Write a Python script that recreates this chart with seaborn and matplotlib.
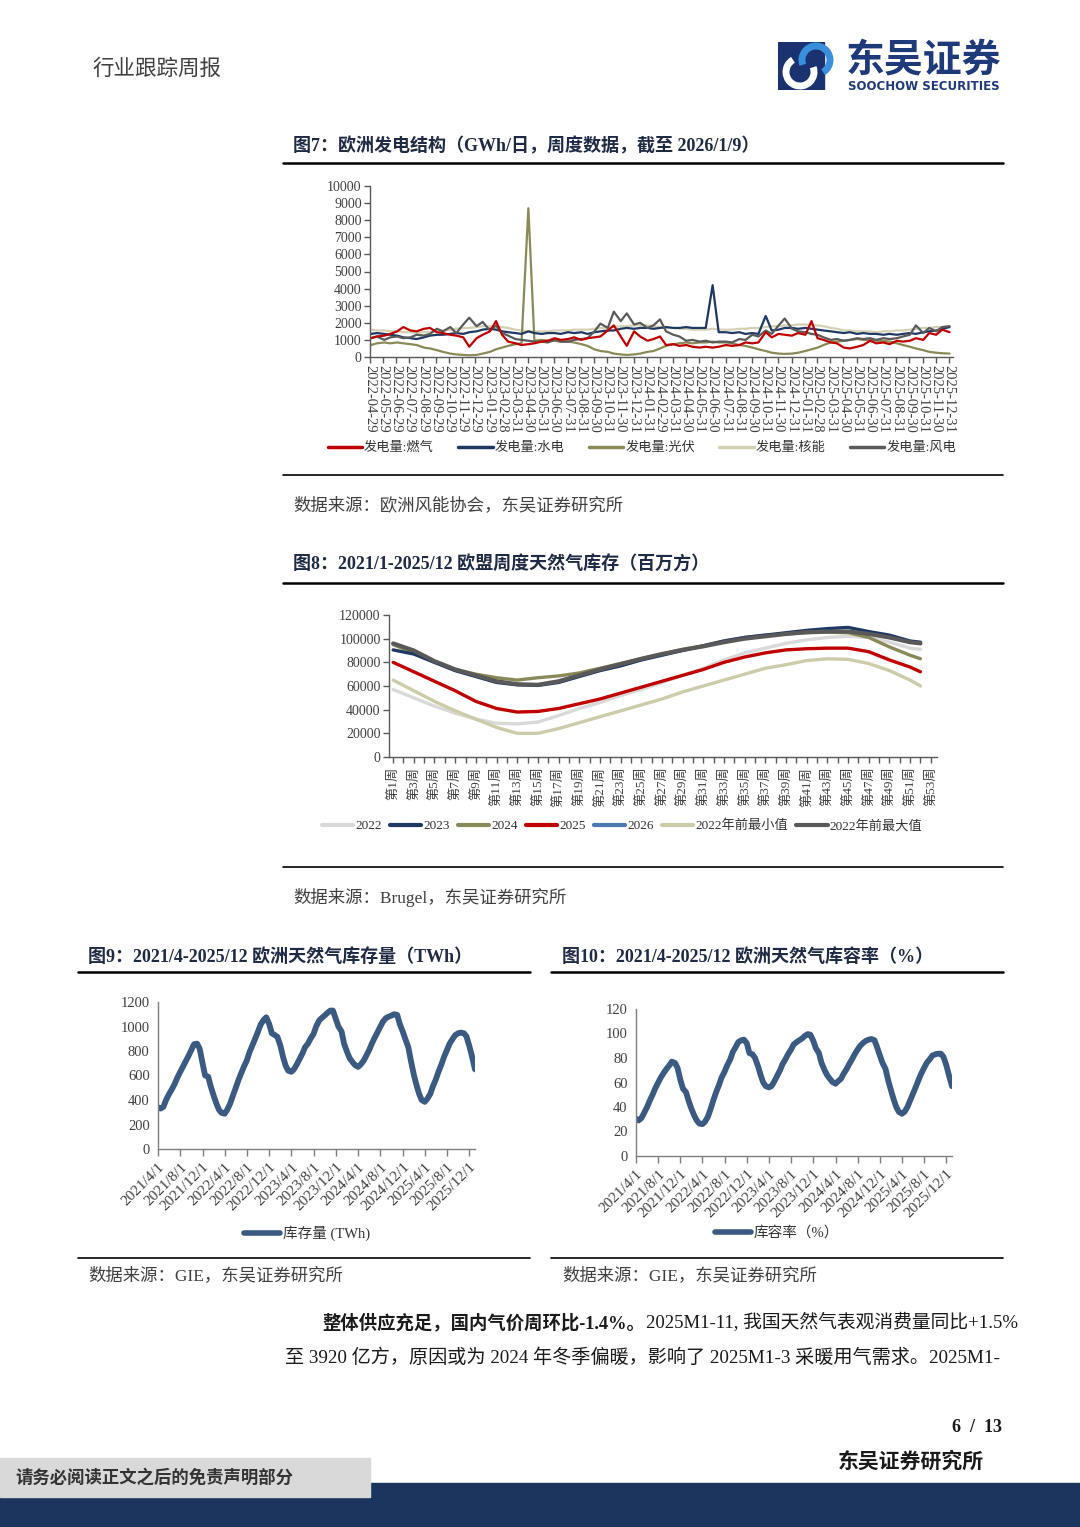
import pandas as pd
import matplotlib
matplotlib.use("Agg")
import matplotlib.pyplot as plt
import seaborn as sns
from matplotlib.lines import Line2D
from matplotlib.patches import Rectangle, Arc

# CONFIG
sns.set_theme(style="ticks")
plt.rcParams["font.family"] = ["Liberation Serif", "Noto Sans CJK SC"]
plt.rcParams["axes.unicode_minus"] = False

W, H = 1080, 1527

# ---------------- DATA: FIG 7 (GWh/day, semi-monthly readings) ----------------
gen_ticks = [
    "2022-04-29", "2022-05-29", "2022-06-29", "2022-07-29", "2022-08-29", "2022-09-29",
    "2022-10-29", "2022-11-29", "2022-12-29", "2023-01-29", "2023-02-28", "2023-03-31",
    "2023-04-30", "2023-05-31", "2023-06-30", "2023-07-31", "2023-08-31", "2023-09-30",
    "2023-10-31", "2023-11-30", "2023-12-31", "2024-01-31", "2024-02-29", "2024-03-31",
    "2024-04-30", "2024-05-31", "2024-06-30", "2024-07-31", "2024-08-31", "2024-09-30",
    "2024-10-31", "2024-11-30", "2024-12-31", "2025-01-31", "2025-02-28", "2025-03-31",
    "2025-04-30", "2025-05-31", "2025-06-30", "2025-07-31", "2025-08-31", "2025-09-30",
    "2025-10-31", "2025-11-30", "2025-12-31",
]
gen_dates = pd.date_range("2022-05-01", periods=89, freq="SMS")

gas = [1100, 1200, 1250, 1350, 1500, 1750, 1550, 1500, 1650, 1700, 1450, 1400, 1300, 1250, 1150, 600,
       1100, 1300, 1500, 2100, 1300, 900, 800, 700, 750, 800, 900, 950, 1100, 1000, 1050, 1150,
       1000, 1100, 1150, 1200, 1550, 1850, 1200, 650,
       1500, 1200, 950, 1050, 1200, 700, 750, 650, 700, 600, 550, 600, 550, 600, 700, 650,
       700, 850, 800, 850, 1450, 1150, 1350, 1300,
       1250, 1400, 1300, 2100, 1100, 1000, 850, 800, 550, 500, 600, 700, 950, 800, 850, 750,
       950, 900, 950, 1100, 1000, 1400, 1300, 1600, 1450]
hydro = [1350, 1400, 1350, 1300, 1250, 1150, 1100, 1050, 1150, 1250, 1300, 1300, 1350, 1400, 1350, 1450,
         1500, 1600, 1650, 1600, 1500, 1450, 1400, 1350, 1500, 1400, 1350, 1400, 1400, 1350, 1450, 1400,
         1450, 1350, 1450, 1500, 1550, 1550, 1650, 1700,
         1650, 1700, 1700, 1650, 1700, 1750, 1700, 1700, 1750, 1700, 1700, 1700, 4200, 1450, 1450, 1400,
         1450, 1350, 1400, 1350, 2400, 1550, 1600, 1700,
         1700, 1650, 1700, 1650, 1600, 1550, 1500, 1450, 1400, 1450, 1350, 1400, 1350, 1350, 1300, 1350,
         1300, 1350, 1400, 1350, 1450, 1500, 1550, 1650, 1750]
solar = [700, 800, 850, 800, 850, 800, 750, 700, 550, 500, 400, 300, 200, 150, 120, 100,
         120, 200, 300, 450, 550, 650, 750, 800, 8700, 950, 1000, 950, 950, 900, 900, 850,
         750, 650, 450, 350, 300, 200, 150, 120,
         150, 200, 300, 350, 500, 650, 750, 800, 850, 800, 850, 850, 900, 850, 850, 800,
         700, 650, 550, 450, 350, 250, 200, 180,
         200, 250, 350, 450, 550, 700, 850, 900, 950, 1000, 1050, 1000, 1000, 950, 950, 900,
         800, 700, 600, 500, 400, 300, 250, 220, 200]
nuclear = [1600, 1550, 1550, 1500, 1500, 1450, 1450, 1400, 1450, 1450, 1500, 1550, 1600, 1650, 1700, 1700,
           1750, 1800, 1800, 1750, 1750, 1700, 1600, 1550, 1500, 1500, 1500, 1500, 1550, 1550, 1550, 1600,
           1600, 1600, 1650, 1700, 1700, 1750, 1800, 1800,
           1850, 1850, 1850, 1800, 1750, 1700, 1700, 1650, 1650, 1600, 1600, 1600, 1650, 1600, 1600, 1600,
           1650, 1650, 1700, 1700, 1750, 1800, 1800, 1850,
           1850, 1900, 1900, 1850, 1850, 1800, 1700, 1650, 1550, 1550, 1500, 1500, 1500, 1450, 1500, 1500,
           1550, 1550, 1600, 1650, 1700, 1700, 1750, 1750, 1800]
wind = [1100, 1200, 1000, 1150, 1200, 1100, 1150, 1300, 1250, 1350, 1650, 1500, 1750, 1400, 1900, 2300,
        1800, 2050, 1550, 1850, 1400, 1250, 1050, 1000, 950, 900, 900, 850, 1000, 900, 900, 1000,
        1050, 1100, 1500, 1950, 1700, 2650, 2100, 2550,
        1900, 2000, 1700, 1850, 2200, 1500, 1300, 1200, 950, 1000, 900, 950, 850, 900, 900, 850,
        1050, 1000, 1300, 1200, 1550, 1350, 1850, 2250,
        1650, 1500, 1450, 1350, 1300, 1150, 1000, 1050, 950, 1000, 1100, 1050, 1100, 1000, 1100, 1050,
        1100, 1200, 1300, 1850, 1400, 1700, 1500, 1750, 1800]

gen_order = ["发电量:燃气", "发电量:水电", "发电量:光伏", "发电量:核能", "发电量:风电"]
gen_colors = {"发电量:燃气": "#c00000", "发电量:水电": "#1f3864", "发电量:光伏": "#8a8a58",
              "发电量:核能": "#d3d1b4", "发电量:风电": "#5a5a5a"}
gen_draw = ["发电量:核能", "发电量:光伏", "发电量:水电", "发电量:风电", "发电量:燃气"]

# ---------------- DATA: FIG 8 (mcm, weekly) ----------------
weeks = [1, 3, 5, 7, 9, 11, 13, 15, 17, 19, 21, 23, 25, 27, 29, 31, 33, 35, 37, 39, 41, 43, 45, 47, 49, 51, 52]
week_labels = [f"第{w}周" for w in range(1, 54, 2)]
s2022 = [57000, 50000, 43000, 37000, 32000, 28500, 28000, 29500, 35000, 41000, 46000, 52000, 57000, 63000,
         69000, 75000, 82000, 88000, 92000, 96000, 99000, 101000, 102000, 101000, 97000, 92000, 91000]
s2023 = [90500, 87000, 80000, 73000, 68000, 63000, 61000, 60500, 63000, 68000, 73000, 77000, 82000, 86000,
         90000, 94000, 98000, 101000, 103000, 105000, 107000, 108500, 109500, 106000, 103000, 98000, 97000]
s2024 = [95000, 88000, 80000, 74000, 70000, 67000, 65000, 67000, 68500, 71000, 75000, 79000, 83000, 87000,
         91000, 94000, 98000, 101000, 103000, 104000, 105000, 105500, 105000, 101000, 93000, 86000, 83000]
s2025 = [80000, 72000, 64000, 56000, 47000, 41000, 38000, 38500, 41000, 45000, 49000, 54000, 59000, 64000,
         69000, 74000, 80000, 84500, 88000, 90500, 91500, 92000, 92000, 89000, 82000, 76000, 72000]
s2026 = [94000]
s_min = [65000, 56000, 47000, 39000, 32000, 25000, 20000, 20000, 24000, 29000, 34000, 39000, 44000, 49000,
         55000, 60000, 65000, 70000, 75000, 78000, 81500, 83000, 82500, 79000, 73000, 65000, 60000]
s_max = [96000, 90000, 81000, 74000, 69000, 64000, 61500, 61000, 64000, 69000, 74000, 78500, 83000, 87000,
         90500, 93500, 97000, 100000, 102000, 104000, 105500, 106000, 106000, 104000, 101000, 97000, 96000]

stor_order = ["2022", "2023", "2024", "2025", "2026", "2022年前最小值", "2022年前最大值"]
stor_colors = {"2022": "#d9d9d9", "2023": "#1f3864", "2024": "#8a8a58", "2025": "#c00000",
               "2026": "#4a78b0", "2022年前最小值": "#cccbaa", "2022年前最大值": "#595959"}

# ---------------- DATA: FIG 9 / FIG 10 (semi-monthly readings) ----------------
gie_dates = pd.date_range("2021-04-01", periods=115, freq="SMS")
gie_ticks = ["2021/4/1", "2021/8/1", "2021/12/1", "2022/4/1", "2022/8/1", "2022/12/1", "2023/4/1",
             "2023/8/1", "2023/12/1", "2024/4/1", "2024/8/1", "2024/12/1", "2025/4/1", "2025/8/1",
             "2025/12/1"]
twh = [340, 330, 345, 400, 450, 485, 530, 580, 630, 670, 720, 760, 810, 855, 860, 820, 700, 600,
       590, 510, 430, 370, 320, 295, 288, 320, 370, 430, 500, 560, 620, 670, 725, 790, 850, 900,
       960, 1015, 1055, 1075, 1020, 945,
       930, 915, 840, 750, 680, 640, 630, 650, 690, 730, 780, 830, 860, 900, 940, 1000, 1050, 1070,
       1090, 1110, 1130, 1130, 1060, 1000,
       960, 860, 790, 740, 710, 685, 670, 690, 720, 760, 810, 860, 910, 950, 1000, 1040, 1070, 1080,
       1090, 1100, 1095, 1020, 960, 900,
       830, 720, 600, 520, 450, 400, 385, 410, 450, 510, 570, 630, 690, 750, 810, 860, 900, 930,
       945, 950, 945, 920, 840, 760, 650]
pct = [30.5, 29, 31, 35, 40, 45, 50, 55, 60, 64, 68, 71, 74, 77, 76, 72, 62, 55,
       52, 45, 38, 33, 29, 26.5, 26, 28, 32, 38, 46, 52, 58, 64, 69, 74, 79, 85,
       89, 93, 94.5, 95, 92, 84,
       83, 80, 73, 66, 60, 57, 56, 57, 61, 65, 70, 75, 79, 83, 87, 91, 93, 94.5,
       96, 98, 99.5, 99, 94, 88,
       84, 76, 70, 66, 63, 60.5, 59, 61, 63, 67, 71, 75, 79, 83, 87, 90, 92.5, 94,
       95, 95.5, 94.5, 89, 82, 76,
       71, 62, 53, 46, 40, 36, 34.5, 36, 40, 45, 51, 56, 62, 67, 72, 76, 79, 82,
       83, 83.5, 83.5, 81, 74, 66, 57]

# ---------------- FIGURE ----------------
fig = plt.figure(figsize=(W / 100, H / 100), dpi=100)


def add_ax(l, t, r, b):
    return fig.add_axes([l / W, 1 - b / H, (r - l) / W, (b - t) / H])


def ftext(x, y, s, size, color="#333333", weight="normal", ha="left", va="center", **kw):
    fig.text(x / W, 1 - y / H, s, fontsize=size, color=color, fontweight=weight, ha=ha, va=va, **kw)


def hline(x0, x1, y, lw=1.6, color="black"):
    fig.add_artist(Line2D([x0 / W, x1 / W], [1 - y / H, 1 - y / H], transform=fig.transFigure,
                          color=color, lw=lw))


def style_ax(ax, spine="#7f7f7f"):
    sns.despine(ax=ax)
    for s in ["left", "bottom"]:
        ax.spines[s].set_color(spine)
        ax.spines[s].set_linewidth(1.0)
    ax.tick_params(color=spine, labelcolor="#404040", direction="out", width=1)
    ax.set_xlabel("")
    ax.set_ylabel("")


# HEADER
ftext(92, 70, "行业跟踪周报", 15.5, color="#404040")
logo = fig.add_axes([778 / W, 1 - 90 / H, 60 / W, 48 / H])
logo.set_xlim(0, 60)
logo.set_ylim(0, 48)
logo.axis("off")
logo.add_patch(Rectangle((0, 0), 46, 48, color="#1b3270"))
logo.add_patch(Arc((38, 30), 28, 28, theta1=-60, theta2=200, color="#3a8fdc", lw=5))
logo.add_patch(Arc((22, 18), 28, 28, theta1=120, theta2=380, color="white", lw=5))
ftext(846, 60, "东吴证券", 28, color="#1f3a78", weight="bold", family="Noto Sans CJK SC")
ftext(848, 86, "SOOCHOW SECURITIES", 8.5, color="#1f3a78", weight="bold", family="DejaVu Sans")

# ---------------- FIG 7 ----------------
ftext(293, 146, "图7：欧洲发电结构（GWh/日，周度数据，截至 2026/1/9）", 13, color="#1f2a44", weight="bold")
hline(283, 1003, 163, lw=1.8)

gen_df = pd.DataFrame({"date": gen_dates, "发电量:燃气": gas, "发电量:水电": hydro, "发电量:光伏": solar,
                       "发电量:核能": nuclear, "发电量:风电": wind})
gen_long = gen_df.melt(id_vars="date", var_name="series", value_name="value")

ax1 = add_ax(370, 186, 953, 357)
sns.lineplot(data=gen_long, x="date", y="value", hue="series", hue_order=gen_draw,
             palette=gen_colors, linewidth=1.6, legend=False, ax=ax1)
ax1.set_xlim(pd.Timestamp("2022-04-29"), pd.Timestamp("2026-01-09"))
ax1.set_ylim(0, 10000)
ax1.set_yticks(range(0, 10001, 1000))
ax1.set_xticks(pd.to_datetime(gen_ticks))
ax1.set_xticklabels(gen_ticks, rotation=-90, fontsize=10.5)
ax1.tick_params(axis="y", labelsize=10, length=4, pad=2)
ax1.tick_params(axis="x", length=4, pad=2)
style_ax(ax1, "#595959")

fig.legend(handles=[Line2D([], [], color=gen_colors[k], lw=2.5) for k in gen_order], labels=gen_order,
           loc="center", bbox_to_anchor=(642 / W, 1 - 448 / H), ncol=5, frameon=False, fontsize=9.5,
           handlelength=2.6, handletextpad=0.15, columnspacing=1.85, labelcolor="#333333")
hline(283, 1003, 475, lw=1.2)
ftext(293, 506, "数据来源：欧洲风能协会，东吴证券研究所", 12.5, color="#404040")

# ---------------- FIG 8 ----------------
ftext(293, 565, "图8：2021/1-2025/12 欧盟周度天然气库存（百万方）", 13, color="#1f2a44", weight="bold")
hline(283, 1003, 583, lw=1.8)

stor_parts = []
for name, vals in zip(stor_order, [s2022, s2023, s2024, s2025, s2026, s_min, s_max]):
    stor_parts.append(pd.DataFrame({"week": weeks[:len(vals)], "value": vals, "series": name}))
stor_long = pd.concat(stor_parts, ignore_index=True)

ax2 = add_ax(389, 615, 937, 757)
draw2 = ["2022", "2022年前最小值", "2025", "2024", "2026", "2023", "2022年前最大值"]
widths = {"2022年前最大值": 3.0}
for name in draw2:
    sub = stor_long[stor_long["series"] == name]
    sns.lineplot(data=sub, x="week", y="value", color=stor_colors[name],
                 linewidth=widths.get(name, 2.4), legend=False, ax=ax2)
ax2.set_xlim(0.6, 53.6)
ax2.set_ylim(0, 120000)
ax2.set_yticks(range(0, 120001, 20000))
ax2.set_xticks(range(1, 54, 2))
ax2.set_xticks(range(1, 54), minor=True)
ax2.set_xticklabels(week_labels, rotation=90, fontsize=9.5)
ax2.tick_params(axis="y", labelsize=10, length=4, pad=2)
ax2.tick_params(axis="x", which="both", length=4, pad=3)
style_ax(ax2, "#595959")
ax2.tick_params(axis="x", which="minor", color="#595959", length=4, width=1)

fig.legend(handles=[Line2D([], [], color=stor_colors[k], lw=3) for k in stor_order], labels=stor_order,
           loc="center", bbox_to_anchor=(622 / W, 1 - 826 / H), ncol=7, frameon=False, fontsize=9.5,
           handlelength=2.4, handletextpad=0.15, columnspacing=0.6, labelcolor="#333333")
hline(283, 1003, 867, lw=1.2)
ftext(293, 897, "数据来源：Brugel，东吴证券研究所", 12.5, color="#404040")

# ---------------- FIG 9 / FIG 10 ----------------
ftext(88, 957, "图9：2021/4-2025/12 欧洲天然气库存量（TWh）", 13, color="#1f2a44", weight="bold")
ftext(562, 957, "图10：2021/4-2025/12 欧洲天然气库容率（%）", 13, color="#1f2a44", weight="bold")
hline(78, 530, 972, lw=1.8)
hline(551, 1003, 972, lw=1.8)

gie = pd.DataFrame({"date": gie_dates, "twh": twh, "pct": pct})
line_c = "#3b5a82"

ax3 = add_ax(158, 1002, 475, 1149)
sns.lineplot(data=gie, x="date", y="twh", color=line_c, linewidth=4.2, ax=ax3)
ax3.set_ylim(0, 1200)
ax3.set_yticks(range(0, 1201, 200))

ax4 = add_ax(636, 1009, 952, 1156)
sns.lineplot(data=gie, x="date", y="pct", color=line_c, linewidth=4.2, ax=ax4)
ax4.set_ylim(0, 120)
ax4.set_yticks(range(0, 121, 20))

for ax in [ax3, ax4]:
    ax.set_xlim(pd.Timestamp("2021-04-01"), pd.Timestamp("2026-01-01"))
    ax.set_xticks(pd.to_datetime(gie_ticks))
    ax.set_xticklabels(gie_ticks, rotation=45, ha="right", rotation_mode="anchor", fontsize=11)
    ax.tick_params(axis="y", labelsize=10.5, length=0, pad=6)
    ax.tick_params(axis="x", length=5, pad=3)
    style_ax(ax, "#7f7f7f")

fig.legend(handles=[Line2D([], [], color=line_c, lw=4)], labels=["库存量 (TWh)"], loc="center",
           bbox_to_anchor=(307 / W, 1 - 1233 / H), frameon=False, fontsize=10.5, handlelength=2.5,
           handletextpad=0.2, labelcolor="#333333")
fig.legend(handles=[Line2D([], [], color=line_c, lw=4)], labels=["库容率（%）"], loc="center",
           bbox_to_anchor=(777 / W, 1 - 1233 / H), frameon=False, fontsize=10.5, handlelength=2.5,
           handletextpad=0.2, labelcolor="#333333")
hline(78, 530, 1258, lw=1.2)
hline(551, 1003, 1258, lw=1.2)
ftext(88, 1276, "数据来源：GIE，东吴证券研究所", 12.5, color="#404040")
ftext(562, 1276, "数据来源：GIE，东吴证券研究所", 12.5, color="#404040")

# BODY TEXT
ftext(322, 1323, "整体供应充足，国内气价周环比-1.4%。", 13.2, color="#1a1a1a", weight="bold")
ftext(1018, 1323, "2025M1-11, 我国天然气表观消费量同比+1.5%", 13.5, color="#1a1a1a", ha="right")
ftext(285, 1358, "至 3920 亿方，原因或为 2024 年冬季偏暖，影响了 2025M1-3 采暖用气需求。2025M1-",
      13.8, color="#1a1a1a")

# FOOTER
ftext(1002, 1427, "6  /  13", 13, color="#1a1a1a", weight="bold", ha="right")
ftext(838, 1462, "东吴证券研究所", 15, color="#1a1a1a", weight="bold")
fig.add_artist(Rectangle((0, 0), 1, 44 / H, transform=fig.transFigure, color="#1c355e", zorder=1))
fig.add_artist(Rectangle((0, 1 - 1497 / H), 370 / W, 39 / H, transform=fig.transFigure,
                         color="#d9d9d9", zorder=2))
fig.text(15 / W, 1 - 1478 / H, "请务必阅读正文之后的免责声明部分", fontsize=12.5, color="#333333",
         fontweight="bold", va="center", zorder=3)

fig.savefig("out.png", dpi=100)
